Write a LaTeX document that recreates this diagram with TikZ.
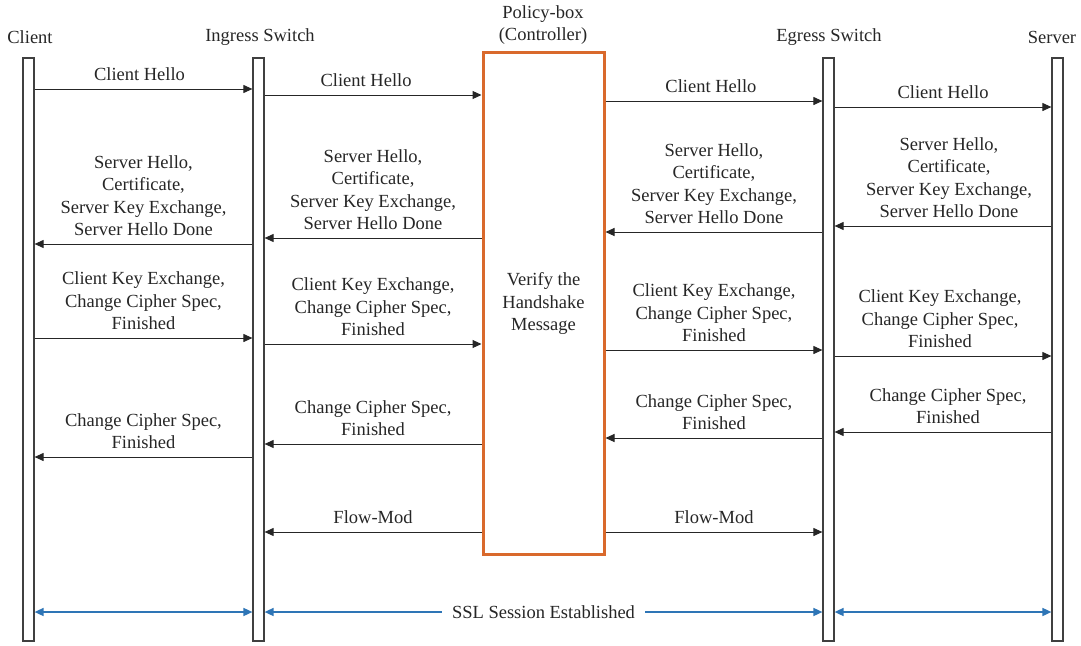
\documentclass[tikz,border=0pt]{standalone}
\usepackage{fontspec}
\setmainfont{Liberation Serif}
\usepackage{xcolor}
\usetikzlibrary{positioning,arrows.meta}
\definecolor{boxorange}{HTML}{D9692C}
\definecolor{sslblue}{HTML}{2E75B6}
\definecolor{txtgray}{HTML}{262626}

\begin{document}
\begin{tikzpicture}[
  x=1pt,y=-1pt,
  font=\fontsize{18.5}{22.5}\selectfont,
  text=txtgray,
  bar/.style={draw=black!75,line width=1.2pt,minimum width=11pt,minimum height=583pt,inner sep=0pt},
  msg/.style={draw=black!85,line width=1pt,-{Triangle[length=9pt,width=8pt]}},
  ssl/.style={draw=sslblue,line width=1.6pt,{Triangle[length=9pt,width=8pt]}-{Triangle[length=9pt,width=8pt]}},
  lbl/.style={above=0pt,inner sep=0pt,text depth=8pt,align=center}]
  \useasboundingbox (0,0) rectangle (1081,645);
  % lifelines
  \node[bar] (cl) at (28.5,349.5) {};
  \node[bar] (ig) at (258.5,349.5) {};
  \node[bar] (eg) at (828.5,349.5) {};
  \node[bar] (sv) at (1057.5,349.5) {};
  \node[draw=boxorange,line width=3pt,minimum width=121pt,minimum height=502pt,inner sep=0pt,align=center] (pb) at (543.5,303.5) {Verify the\\Handshake\\Message};
  % headings
  \node at (30,37) {Client};
  \node at (260,37) {Ingress Switch};
  \node[align=center] at (543,25) {Policy-box\\(Controller)};
  \node at (829,37) {Egress Switch};
  \node at (1052,37) {Server};
  % client hello
  \draw[msg] (cl.east |- 0,89) -- node[lbl,xshift=-4pt] {Client Hello} (ig.west |- 0,89);
  \draw[msg] (ig.east |- 0,95) -- node[lbl,xshift=-7pt] {Client Hello} (pb.west |- 0,95);
  \draw[msg] (pb.east |- 0,101) -- node[lbl,xshift=-3pt] {Client Hello} (eg.west |- 0,101);
  \draw[msg] (eg.east |- 0,107) -- node[lbl] {Client Hello} (sv.west |- 0,107);
  % server hello
  \draw[msg] (sv.west |- 0,226) -- node[lbl,xshift=6pt] {Server Hello,\\Certificate,\\Server Key Exchange,\\Server Hello Done} (eg.east |- 0,226);
  \draw[msg] (eg.west |- 0,232) -- node[lbl] {Server Hello,\\Certificate,\\Server Key Exchange,\\Server Hello Done} (pb.east |- 0,232);
  \draw[msg] (pb.west |- 0,238) -- node[lbl] {Server Hello,\\Certificate,\\Server Key Exchange,\\Server Hello Done} (ig.east |- 0,238);
  \draw[msg] (ig.west |- 0,244) -- node[lbl] {Server Hello,\\Certificate,\\Server Key Exchange,\\Server Hello Done} (cl.east |- 0,244);
  % key exchange
  \draw[msg] (cl.east |- 0,338) -- node[lbl] {Client Key Exchange,\\Change Cipher Spec,\\Finished} (ig.west |- 0,338);
  \draw[msg] (ig.east |- 0,344) -- node[lbl] {Client Key Exchange,\\Change Cipher Spec,\\Finished} (pb.west |- 0,344);
  \draw[msg] (pb.east |- 0,350) -- node[lbl] {Client Key Exchange,\\Change Cipher Spec,\\Finished} (eg.west |- 0,350);
  \draw[msg] (eg.east |- 0,356) -- node[lbl,xshift=-3pt] {Client Key Exchange,\\Change Cipher Spec,\\Finished} (sv.west |- 0,356);
  % change cipher spec
  \draw[msg] (sv.west |- 0,432) -- node[lbl,xshift=5pt] {Change Cipher Spec,\\Finished} (eg.east |- 0,432);
  \draw[msg] (eg.west |- 0,438) -- node[lbl] {Change Cipher Spec,\\Finished} (pb.east |- 0,438);
  \draw[msg] (pb.west |- 0,444) -- node[lbl] {Change Cipher Spec,\\Finished} (ig.east |- 0,444);
  \draw[msg] (ig.west |- 0,457) -- node[lbl] {Change Cipher Spec,\\Finished} (cl.east |- 0,457);
  % flow-mod
  \draw[msg] (pb.west |- 0,532) -- node[lbl] {Flow-Mod} (ig.east |- 0,532);
  \draw[msg] (pb.east |- 0,532) -- node[lbl] {Flow-Mod} (eg.west |- 0,532);
  % ssl session
  \draw[ssl] (cl.east |- 0,612) -- (ig.west |- 0,612);
  \draw[ssl] (ig.east |- 0,612) -- node[fill=white,inner xsep=10pt] {SSL Session Established} (eg.west |- 0,612);
  \draw[ssl] (eg.east |- 0,612) -- (sv.west |- 0,612);
\end{tikzpicture}
\end{document}
